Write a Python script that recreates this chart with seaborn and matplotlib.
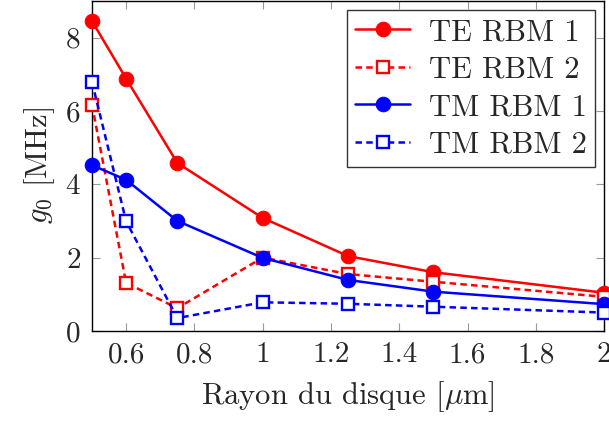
import numpy as np
import pandas as pd
import seaborn as sns
import matplotlib.pyplot as plt

# rayon du disque (um)
radius = [0.5, 0.6, 0.75, 1.0, 1.25, 1.5, 2.0]
# g0 values (MHz)
te_rbm1 = [8.45, 6.88, 4.58, 3.08, 2.04, 1.60, 1.04]
te_rbm2 = [6.17, 1.31, 0.62, 2.00, 1.55, 1.34, 0.93]
tm_rbm1 = [4.52, 4.12, 3.00, 1.99, 1.39, 1.07, 0.73]
tm_rbm2 = [6.79, 2.99, 0.35, 0.78, 0.74, 0.66, 0.50]
labels = ["TE RBM 1", "TE RBM 2", "TM RBM 1", "TM RBM 2"]
xticks = [0.6, 0.8, 1, 1.2, 1.4, 1.6, 1.8, 2]
yticks = [0, 2, 4, 6, 8]

sns.set_style("ticks")
plt.rcParams['font.family'] = 'serif'
plt.rcParams['font.serif'] = ['cmr10', 'DejaVu Serif']
plt.rcParams['mathtext.fontset'] = 'cm'
plt.rcParams['axes.formatter.use_mathtext'] = True

fig = plt.figure(figsize=(6.09, 4.21), dpi=100)
ax = fig.add_axes([0.151, 0.214, 0.841, 0.784])

series = [te_rbm1, te_rbm2, tm_rbm1, tm_rbm2]
colors = ["#ff0000", "#ff0000", "#0000ff", "#0000ff"]
for vals, lab, col in zip(series, labels, colors):
    df = pd.DataFrame({"r": radius, "g": vals})
    if "RBM 1" in lab:
        sns.lineplot(data=df, x="r", y="g", ax=ax, color=col, label=lab, lw=1.8,
                     marker="o", markersize=10.5, markeredgecolor=col, markerfacecolor=col,
                     clip_on=False, zorder=3)
    else:
        sns.lineplot(data=df, x="r", y="g", ax=ax, color=col, label=lab, lw=1.8,
                     linestyle=(0, (2.6, 1.7)), marker="s", markersize=8.5,
                     markeredgecolor=col, markerfacecolor="white", markeredgewidth=1.7,
                     clip_on=False, zorder=3)

ax.set_xlim(0.5, 2)
ax.set_ylim(0, 9)
ax.set_xticks(xticks)
ax.set_xticklabels([f"{t:g}" for t in xticks])
ax.set_yticks(yticks)
ax.tick_params(direction="in", length=6, color="#999999", labelsize=21,
               top=True, right=True, pad=8)
for s in ax.spines.values():
    s.set_color("black")
    s.set_linewidth(1.0)

ax.set_xlabel(r"Rayon du disque [$\mu$m]", fontsize=22, labelpad=8)
ax.set_ylabel("$g_0$ [MHz]", fontsize=22, labelpad=6)

leg = ax.legend(loc="upper right", fontsize=22, frameon=True, fancybox=False,
                edgecolor="black", borderaxespad=0.3, handlelength=1.8,
                handletextpad=0.6, labelspacing=0.33, borderpad=0.28)
leg.get_frame().set_linewidth(1.0)

fig.savefig("out.png", dpi=100)
